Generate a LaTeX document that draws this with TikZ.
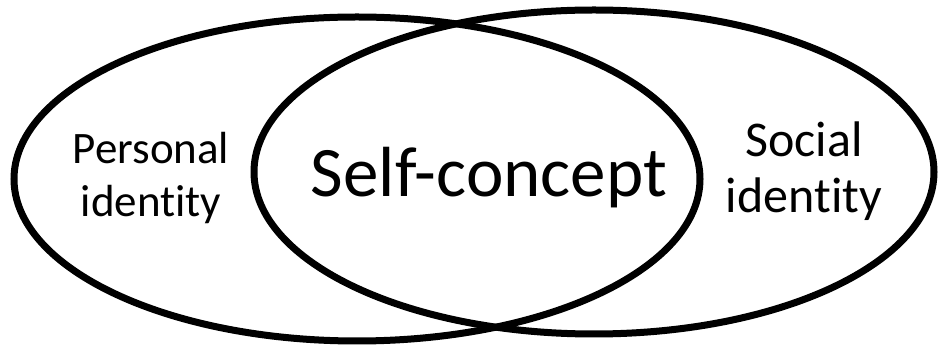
\documentclass[tikz,border=0pt]{standalone}
\usepackage{fontspec}
\setmainfont[Ligatures=CommonOff]{Carlito}
\begin{document}
\begin{tikzpicture}[x=1pt, y=1pt,
    ring/.style={draw=black, line width=7pt},
    sidelabel/.style={align=center},
    mainlabel/.style={font=\fontsize{71}{85}\selectfont}]
            \useasboundingbox (0,0) rectangle (938,345);
            \draw[ring] (357,166) ellipse [x radius=343, y radius=162];
            \draw[ring] (594,173) ellipse [x radius=340, y radius=162];

            \node[sidelabel, font=\fontsize{45}{53}\selectfont] (personal) at (151,167) {Personal\\identity};
            \node[sidelabel, font=\fontsize{50}{56}\selectfont] (social) at (804,174) {Social\\identity};
            \node[mainlabel] (self) at (489,167) {Self-concept};
        \end{tikzpicture}
\end{document}
